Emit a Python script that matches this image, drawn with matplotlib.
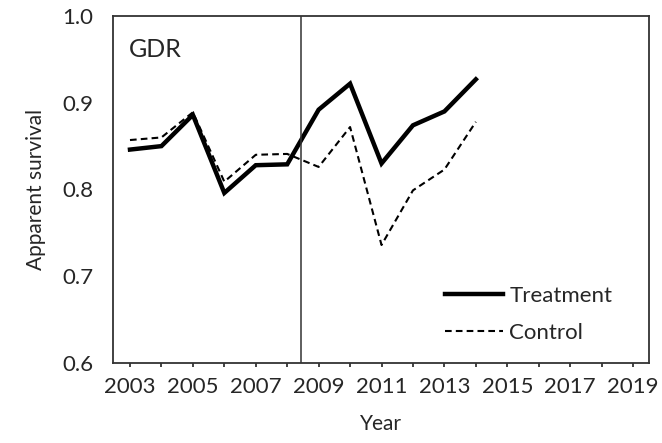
import matplotlib.pyplot as plt

plt.rcParams['font.family'] = ['Lato', 'DejaVu Sans']

years = [2003, 2004, 2005, 2006, 2007, 2008, 2009, 2010, 2011, 2012, 2013, 2014]
treatment = [0.846, 0.850, 0.886, 0.796, 0.828, 0.829, 0.892, 0.922, 0.830, 0.874, 0.890, 0.927]
control = [0.857, 0.860, 0.889, 0.809, 0.840, 0.841, 0.826, 0.872, 0.736, 0.799, 0.823, 0.878]
tick_years = list(range(2003, 2020))
label_years = list(range(2003, 2020, 2))
y_ticks = [0.6, 0.7, 0.8, 0.9, 1.0]
cutoff = 2008.45

fig = plt.figure(figsize=(6.62, 4.43), dpi=100)
ax = fig.add_axes([0.1707, 0.1806, 0.8103, 0.7833])

ax.plot(years, treatment, color='black', lw=3.2, solid_joinstyle='miter',
        label='Treatment')
ax.plot(years, control, color='black', lw=1.5, ls=(0, (3.2, 2.0)),
        label='Control')
ax.axvline(cutoff, color='#333333', lw=1.1)

ax.set_xlim(2002.46, 2019.52)
ax.set_ylim(0.6, 1.0)
ax.set_xticks(tick_years)
ax.set_xticklabels([str(y) if y in label_years else '' for y in tick_years])
ax.set_yticks(y_ticks)
ax.set_yticklabels(['%.1f' % v for v in y_ticks])
ax.tick_params(axis='x', length=3, width=1.3, color='#333333', direction='out',
               labelsize=16, pad=7, labelcolor='#262626')
ax.tick_params(axis='y', length=0, labelsize=16, pad=14, labelcolor='#262626')
for s in ax.spines.values():
    s.set_color('#333333')
    s.set_linewidth(1.3)

ax.set_xlabel('Year', fontsize=15, color='#262626', labelpad=12)
ax.set_ylabel('Apparent survival', fontsize=15, color='#262626', labelpad=12)
ax.text(2002.97, 0.961, 'GDR', fontsize=18, color='#262626', va='center')

ax.legend(loc='center left', bbox_to_anchor=(0.619, 0.14), frameon=False,
          fontsize=16, handlelength=2.6, handletextpad=0.3, labelspacing=0.75,
          borderpad=0, borderaxespad=0, labelcolor='#262626')

fig.savefig('out.png', dpi=100)
